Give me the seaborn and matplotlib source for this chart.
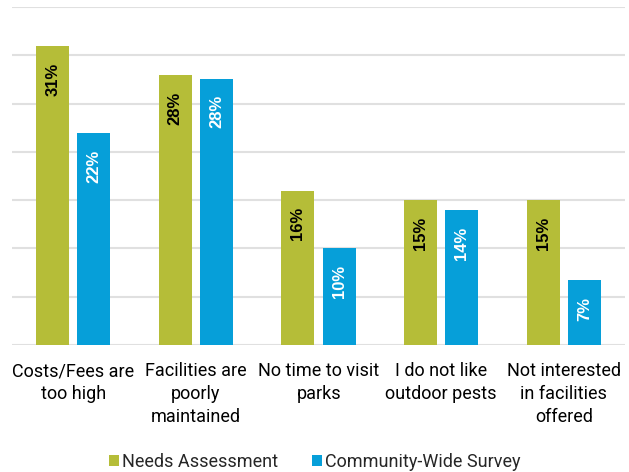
import matplotlib
matplotlib.use("Agg")
import matplotlib.pyplot as plt
from matplotlib.patches import Patch
import seaborn as sns
import pandas as pd

categories = [
    "Costs/Fees are\ntoo high",
    "Facilities are\npoorly\nmaintained",
    "No time to visit\nparks",
    "I do not like\noutdoor pests",
    "Not interested\nin facilities\noffered",
]
needs_assessment = [31, 28, 16, 15, 15]
community_survey = [22, 27.6, 10, 14, 6.7]
series_names = ["Needs Assessment", "Community-Wide Survey"]
colors = ["#B5BD38", "#069FD9"]
label_colors = ["black", "white"]

df = pd.DataFrame({
    "category": categories * 2,
    "value": needs_assessment + community_survey,
    "series": [series_names[0]] * len(categories) + [series_names[1]] * len(categories),
})

sns.set_theme(style="white")
text_family = ["Roboto", "DejaVu Sans"]
plt.rcParams["font.family"] = text_family

fig = plt.figure(figsize=(6.29, 4.72), dpi=100)
ax = fig.add_axes([0.019, 0.269, 0.975, 0.716])

sns.barplot(data=df, x="category", y="value", hue="series", palette=colors,
            width=0.672, gap=0.2, ax=ax, legend=False, saturation=1,
            edgecolor="none")

ax.set_ylim(0, 35)
ax.set_xlim(-0.5, len(categories) - 0.5)
ax.set_yticks(range(0, 36, 5))
ax.yaxis.grid(True, color="#E0E0E0", linewidth=1.5)
ax.set_axisbelow(True)
ax.tick_params(axis="y", left=False, labelleft=False)
ax.tick_params(axis="x", bottom=False, labelsize=13, pad=6.5, colors="black")
for lbl in ax.get_xticklabels():
    lbl.set_linespacing(1.35)
for s in ax.spines.values():
    s.set_visible(False)
ax.set_xlabel("")
ax.set_ylabel("")

for container, tc in zip(ax.containers, label_colors):
    for bar in container:
        h = bar.get_height()
        ax.annotate(f"{round(h)}%", xy=(bar.get_x() + bar.get_width() / 2, h),
                    xytext=(0, -12), textcoords="offset points",
                    rotation=90, ha="center", va="top",
                    fontsize=12, fontweight="bold", color=tc,
                    family=["Liberation Sans", "DejaVu Sans"])

handles = [Patch(facecolor=c, edgecolor="none") for c in colors]
fig.legend(handles, series_names, loc="center", ncol=2,
           bbox_to_anchor=(0.5, 0.022), frameon=False, fontsize=13,
           handlelength=0.55, handleheight=0.55, handletextpad=0.15,
           columnspacing=1.9, borderpad=0)

fig.savefig("out.png", dpi=100)
